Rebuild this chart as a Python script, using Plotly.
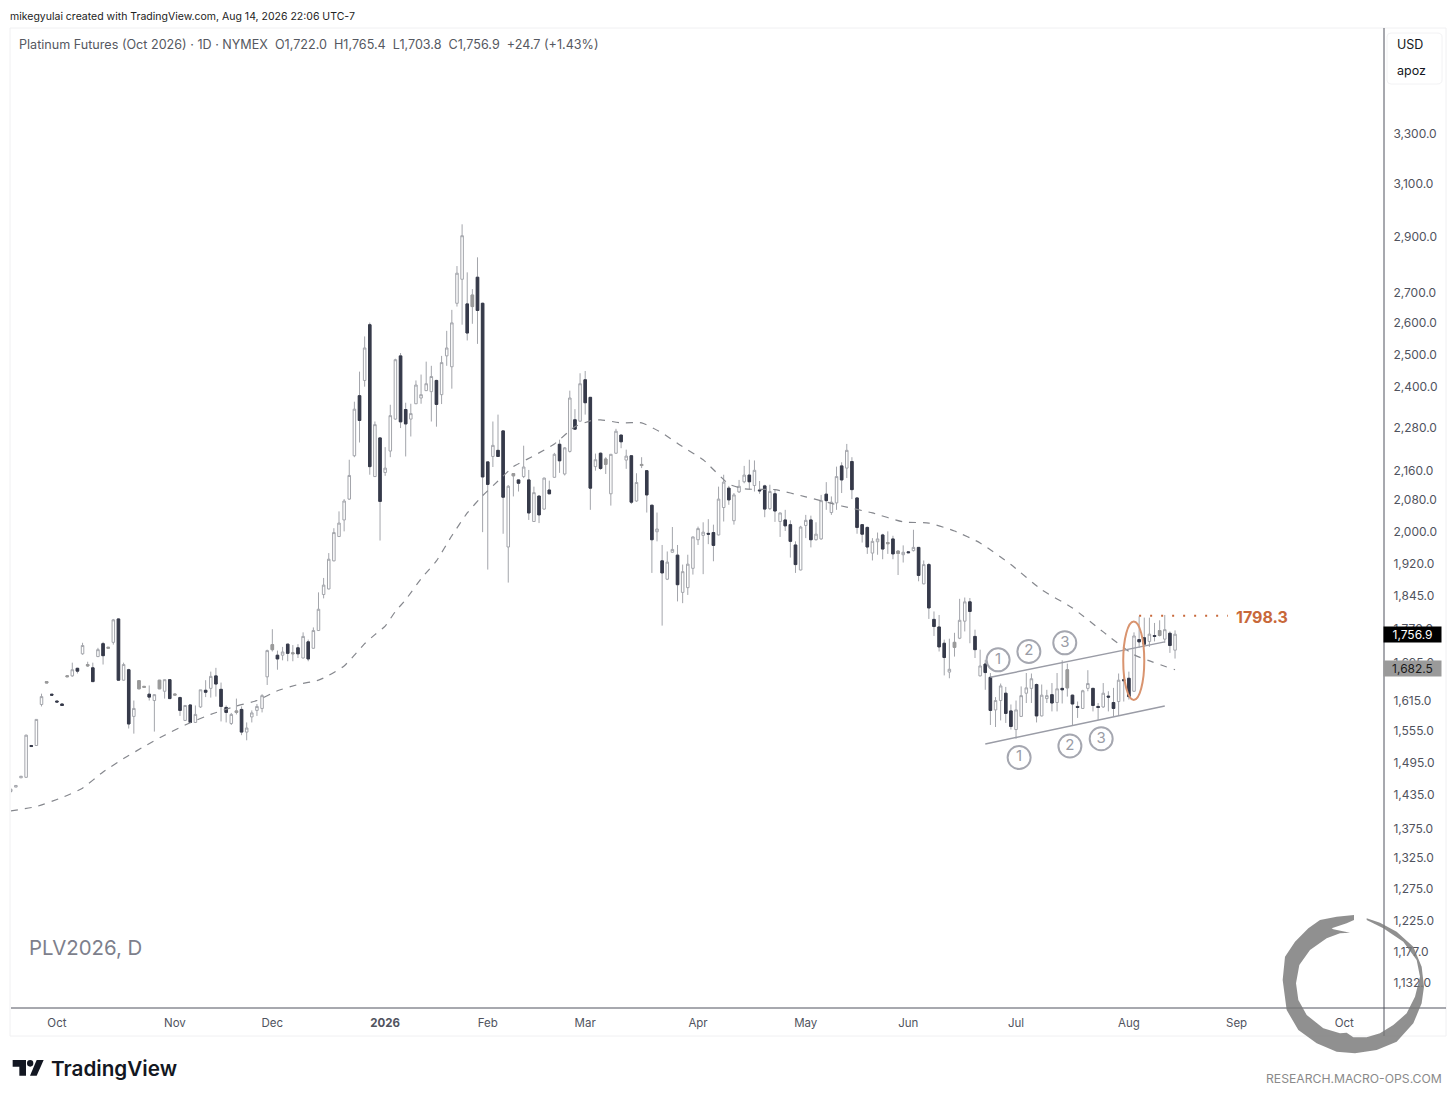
import math
import plotly.graph_objects as go

# ---------- data ----------
FIRST_BAR = -2
OPEN = [
1441,1449,1466,1467,1527,1527,1608,1652,1629,1615,
1609,1665,1667,1683,1714,1688,1684,1708,1736,1726,
1739,1791,1658,1680,1584,1640,1643,1629,1616,1640,
1635,1659,1627,1622,1576,1607,1572,1603,1637,1641,
1667,1639,1602,1570,1592,1598,1553,1583,1596,1600,
1665,1723,1711,1711,1735,1714,1727,1705,1740,1726,
1765,1847,1860,1927,1987,2029,2083,2200,2373,2419,
2595,2143,2250,2154,2213,2304,2495,2332,2304,2349,
2366,2388,2385,2419,2376,2495,2461,2666,2748,2664,
2655,2755,2666,2183,2198,2215,2270,1961,2145,2134,
2143,2134,2025,2091,2057,2107,2141,2232,2150,2212,
2302,2298,2421,2368,2170,2207,2176,2097,2207,2258,
2188,2200,2078,2173,2159,2067,1999,1927,1883,1948,
1941,1852,1863,1909,1979,1990,1995,1997,1991,2061,
2112,2027,2102,2129,2147,2119,2107,2118,2058,2097,
2025,2029,2017,1966,1905,2015,2029,1979,1981,2096,
2048,2073,2172,2166,2184,2086,2017,2010,1946,1974,
1991,1969,1981,1945,1942,1949,1952,1960,1872,1918,
1790,1773,1737,1675,1728,1748,1786,1830,1752,1667,
1692,1664,1597,1616,1631,1595,1558,1584,1631,1641,
1649,1585,1620,1628,1612,1641,1642,1627,1604,1600,
1641,1641,1604,1603,1625,1612,1614,1659,1662,1635,
1745,1749,1741,1754,1754,1746,1759,1722.0]
HIGH = [
1447,1452,1469,1548,1528,1578,1630,1655,1629,1615,
1609,1667,1695,1684,1738,1697,1695,1727,1740,1728,
1791,1792,1695,1682,1616,1657,1645,1647,1629,1658,
1659,1660,1629,1624,1607,1608,1606,1638,1658,1676,
1684,1653,1606,1591,1620,1604,1572,1596,1609,1629,
1723,1768,1721,1729,1736,1733,1735,1761,1745,1772,
1852,1886,1946,2008,2051,2083,2189,2355,2446,2557,
2602,2297,2251,2224,2346,2486,2504,2352,2349,2419,
2437,2477,2464,2421,2495,2575,2644,2794,2945,2772,
2714,2825,2668,2184,2297,2317,2271,2120,2152,2135,
2228,2161,2116,2092,2140,2132,2208,2245,2224,2388,
2333,2441,2448,2369,2206,2209,2196,2205,2276,2259,
2217,2201,2152,2196,2160,2068,2048,1966,1950,2011,
1966,1918,1942,1987,2012,2023,2031,2017,2116,2148,
2118,2099,2134,2172,2189,2187,2131,2121,2121,2108,
2048,2055,2028,1975,2014,2042,2040,2023,2094,2128,
2090,2170,2182,2233,2196,2087,2018,2012,1983,1997,
1994,2000,1989,1952,1965,1950,2004,1961,1928,1922,
1808,1800,1745,1747,1760,1837,1840,1839,1767,1723,
1701,1673,1623,1651,1644,1608,1616,1645,1673,1672,
1651,1649,1638,1652,1673,1700,1693,1628,1614,1638,
1679,1642,1611,1652,1635,1642,1672,1670,1676,1761,
1797,1794,1794,1782,1788,1800,1763,1765.4]
LOW = [
1438,1449,1466,1466,1524,1526,1604,1652,1627,1613,
1606,1665,1665,1672,1712,1686,1655,1707,1691,1726,
1734,1658,1657,1560,1550,1640,1643,1616,1554,1640,
1620,1620,1627,1585,1575,1571,1571,1601,1623,1622,
1624,1574,1572,1567,1588,1547,1537,1572,1585,1592,
1648,1719,1680,1700,1698,1698,1705,1704,1698,1725,
1764,1838,1859,1926,1986,2000,2081,2196,2237,2400,
2148,2142,1977,2145,2196,2302,2278,2198,2254,2348,
2349,2387,2297,2282,2348,2464,2394,2655,2595,2544,
2598,2533,1998,1906,2169,2197,1994,1875,2090,2103,
2139,2029,2024,2021,2055,2096,2140,2153,2146,2209,
2273,2296,2317,2055,2159,2161,2150,2066,2205,2221,
2164,2070,2076,2166,2048,1898,1975,1776,1881,1947,
1831,1827,1846,1894,1966,1895,1968,1926,1990,2025,
2068,2017,2099,2125,2108,2103,2097,2036,2055,2024,
1986,2001,1935,1898,1904,1983,1960,1977,1979,2055,
2042,2055,2099,2139,2083,1994,1972,1944,1928,1942,
1931,1944,1931,1893,1923,1946,1950,1878,1871,1791,
1753,1719,1668,1662,1708,1746,1763,1737,1705,1666,
1638,1567,1563,1576,1571,1558,1540,1583,1611,1611,
1572,1584,1611,1594,1594,1610,1624,1566,1581,1599,
1635,1594,1577,1601,1594,1584,1585,1614,1618,1634,
1727,1729,1729,1741,1752,1738,1716,1703.8]
CLOSE = [
1445,1452,1469,1547,1525,1578,1624,1655,1627,1613,
1606,1667,1680,1677,1732,1691,1655,1723,1710,1728,
1789,1658,1691,1569,1600,1657,1645,1623,1628,1658,
1659,1620,1629,1596,1606,1572,1588,1638,1633,1666,
1650,1604,1592,1588,1595,1553,1561,1591,1604,1626,
1721,1734,1703,1718,1715,1716,1714,1752,1703,1765,
1813,1869,1931,1997,2021,2078,2146,2333,2300,2520,
2170,2288,2077,2166,2314,2483,2296,2290,2320,2405,
2376,2409,2431,2347,2474,2520,2601,2769,2903,2568,
2694,2642,2142,2122,2229,2198,2088,2117,2151,2125,
2169,2047,2100,2042,2139,2097,2204,2186,2222,2366,
2275,2409,2352,2112,2189,2165,2191,2204,2269,2239,
2199,2075,2127,2176,2094,1979,2006,1898,1924,1955,
1870,1901,1919,1986,2007,1998,1993,1965,2083,2128,
2081,2094,2117,2147,2129,2160,2105,2057,2103,2052,
2047,2014,1975,1918,2011,2028,1979,1993,2079,2079,
2075,2143,2134,2215,2108,2010,1993,1961,1975,1981,
1956,1972,1944,1951,1948,1947,1960,1892,1918,1816,
1774,1729,1706,1681,1739,1788,1830,1808,1723,1688,
1674,1596,1616,1646,1590,1564,1597,1626,1642,1661,
1585,1627,1626,1611,1640,1638,1680,1609,1602,1636,
1651,1606,1602,1631,1623,1600,1658,1657,1624,1753,
1740,1735,1757,1752,1765,1767,1732,1756.9]
GRAY_BARS = [5,9,13,17,23,24,27,30,42,49,53,88,96,114,121,169,171,182,204,222]

MA_BAR = [-2,3,8,12,16,20,24,28,32,37,42,46,50,54,58,60,63,65,67,69,71,73,75,78,81,84,87,90,93,96,
          100,104,108,111,113,117,121,125,129,133,138,141,147,153,160,166,172,177,182,187,193,199,205,211,217,225]
MA_PRICE = [1406,1414,1430,1447,1477,1502,1525,1547,1567,1588,1605,1616,1636,1649,1658,1668,1688,1711,1736,1756,
            1775,1808,1835,1884,1927,1989,2047,2092,2131,2170,2200,2233,2282,2299,2302,2293,2293,2264,2225,2189,
            2123,2110,2108,2089,2065,2047,2024,2021,2001,1971,1918,1858,1816,1762,1712,1680]

MONTH_BAR = [7,30,49,71,91,110,132,153,173,194,216,237,258]
MONTH_LABEL = ["Oct","Nov","Dec","<b>2026</b>","Feb","Mar","Apr","May","Jun","Jul","Aug","Sep","Oct"]
PRICE_TICKS = [3300,3100,2900,2700,2600,2500,2400,2280,2160,2080,2000,1920,1845,1770,1695,1615,1555,1495,1435,1375,1325,1275,1225,1177,1132]

LAST_PRICE = 1756.9
MA_LAST = 1682.5
RESIST = 1798.3

CHANNEL_TOP_BAR = [189,223]; CHANNEL_TOP = [1664,1740]
CHANNEL_BOT_BAR = [188,223]; CHANNEL_BOT = [1530,1605]
WAVE_BAR = [190.5,196.5,203.5,194.6,204.5,210.6]
WAVE_PRICE = [1701,1719,1738,1504,1526,1540]
WAVE_TEXT = ["1","2","3","1","2","3"]

# ---------- helpers for chrome ----------
W, H = 1456, 1100
L, R, T, B = 11, 1384, 28, 1008
YMIN, YMAX = 1096.9, 3771.6
XMIN, XMAX = -1.95, 265.74
def px(x): return (x - L) / (R - L)
def py(y): return (B - y) / (B - T)
def price_paper(p):
    return (math.log10(p) - math.log10(YMIN)) / (math.log10(YMAX) - math.log10(YMIN))

FONT = "Inter"
DARK = "#363a4a"
WICK = "#a3a5ab"
GRAY = "#9a9a9a"
BARS = list(range(FIRST_BAR, FIRST_BAR + len(OPEN)))

fig = go.Figure()
# full candle, gray wick and outline
fig.add_trace(go.Candlestick(
    x=BARS, open=OPEN, high=HIGH, low=LOW, close=CLOSE, whiskerwidth=0,
    increasing=dict(line=dict(color=WICK, width=1), fillcolor="#ffffff"),
    decreasing=dict(line=dict(color=WICK, width=1), fillcolor=DARK),
    hoverinfo="skip", showlegend=False))
# solid bodies on top of falling candles
down = [k for k in range(len(OPEN)) if CLOSE[k] < OPEN[k] and BARS[k] not in GRAY_BARS]
fig.add_trace(go.Candlestick(
    x=[BARS[k] for k in down], open=[OPEN[k] for k in down], close=[CLOSE[k] for k in down],
    high=[OPEN[k] for k in down], low=[CLOSE[k] for k in down], whiskerwidth=0,
    decreasing=dict(line=dict(color=DARK, width=1), fillcolor=DARK),
    increasing=dict(line=dict(color=DARK, width=1), fillcolor=DARK),
    hoverinfo="skip", showlegend=False))
gray = [BARS.index(b) for b in GRAY_BARS]
fig.add_trace(go.Candlestick(
    x=GRAY_BARS, open=[OPEN[k] for k in gray], close=[CLOSE[k] for k in gray],
    high=[CLOSE[k] for k in gray], low=[OPEN[k] for k in gray], whiskerwidth=0,
    increasing=dict(line=dict(color=GRAY, width=1), fillcolor=GRAY),
    decreasing=dict(line=dict(color=GRAY, width=1), fillcolor=GRAY),
    hoverinfo="skip", showlegend=False))

fig.add_trace(go.Scatter(x=MA_BAR, y=MA_PRICE, mode="lines",
                         line=dict(color="#85878d", width=1.2, dash="7px,7px", shape="spline", smoothing=0.5),
                         hoverinfo="skip", showlegend=False))
for xs, ys in ((CHANNEL_TOP_BAR, CHANNEL_TOP), (CHANNEL_BOT_BAR, CHANNEL_BOT)):
    fig.add_trace(go.Scatter(x=xs, y=ys, mode="lines", line=dict(color="#9a9ca6", width=1.5), hoverinfo="skip", showlegend=False))
fig.add_trace(go.Scatter(x=WAVE_BAR, y=WAVE_PRICE, mode="markers+text", text=WAVE_TEXT, textposition="middle center",
                         textfont=dict(family=FONT, size=15, color="#9a9ca6"),
                         marker=dict(symbol="circle-open", size=23, color="#a5a7b0", line=dict(width=2, color="#a5a7b0")),
                         hoverinfo="skip", showlegend=False))
fig.add_trace(go.Scatter(x=[218,235.3], y=[RESIST,RESIST], mode="lines", line=dict(color="#c8683a", width=2, dash="2px,9px"), hoverinfo="skip", showlegend=False))

shapes = []
def line(x0, y0, x1, y1, color="#50535e", width=1):
    shapes.append(dict(type="line", xref="paper", yref="paper", x0=px(x0), y0=py(y0), x1=px(x1), y1=py(y1),
                       line=dict(color=color, width=width), layer="above"))
# panel frame and axes
shapes.append(dict(type="rect", xref="paper", yref="paper", x0=px(10), y0=py(28), x1=px(1446), y1=py(1036),
                   line=dict(color="#f0f0f2", width=1), layer="below"))
line(11, 1008, 1446, 1008)
line(1384, 28, 1384, 1036)
shapes.append(dict(type="path", xref="paper", yref="paper", layer="below",
    path="M {} {} L {} {} Q {} {} {} {} L {} {} Q {} {} {} {} L {} {} Q {} {} {} {} L {} {} Q {} {} {} {} Z".format(
        px(1391),py(33), px(1437),py(33), px(1442),py(33), px(1442),py(37), px(1442),py(80), px(1442),py(84), px(1437),py(84),
        px(1391),py(84), px(1387),py(84), px(1387),py(80), px(1387),py(37), px(1387),py(33), px(1391),py(33)),
    line=dict(color="#f2f2f4", width=1)))
# ellipse
shapes.append(dict(type="circle", xref="x", yref="y", x0=214.9, x1=219.0, y0=1617, y1=1785,
                   line=dict(color="#d9946f", width=2), layer="above"))
# ouroboros watermark
ZX, ZY, ZS = 1240, 900, 3
RING = [(342,45),(290,50),(240,60),(205,85),(165,125),(135,170),(128,240),(140,330),(175,390),(230,430),(290,455),(345,460),
        (410,450),(470,425),(520,370),(545,310),(552,260),(545,200),(520,140),(470,95),(420,68),(380,55),(380,60),(430,85),
        (490,125),(530,180),(540,230),(525,290),(500,340),(460,375),(420,400),(380,412),(340,412),(320,398),(300,400),
        (250,385),(200,345),(175,300),(168,250),(178,195),(210,150),(260,115),(300,100),(330,98),(280,88),(275,85),(320,70),(342,60)]
ring_path = "M " + " L ".join(f"{px(ZX+a/ZS):.5f} {py(ZY+b/ZS):.5f}" for a, b in RING) + " Z"
shapes.append(dict(type="path", xref="paper", yref="paper", path=ring_path, fillcolor="rgba(120,120,120,0.82)",
                   line=dict(width=0), layer="above"))
# TradingView glyph
TVX, TVY = 0, 1030
def poly(points):
    return "M " + " L ".join(f"{px(TVX+a/3):.5f} {py(TVY+b/3):.5f}" for a, b in points) + " Z"
shapes.append(dict(type="path", xref="paper", yref="paper", fillcolor="#131722", line=dict(width=0),
                   path=poly([(38,90),(78,90),(78,137),(58,137),(58,110),(38,110)])))
shapes.append(dict(type="path", xref="paper", yref="paper", fillcolor="#131722", line=dict(width=0),
                   path=poly([(110,90),(131,90),(110,137),(90,137)])))
shapes.append(dict(type="circle", xref="paper", yref="paper", fillcolor="#131722", line=dict(width=0),
                   x0=px(81/3), x1=px(100/3), y0=py(1030+110/3), y1=py(1030+90/3)))

anns = []
def txt(x, y, s, size=12, color="#131722", anchor="left", weight=None):
    f = dict(family=FONT, size=size, color=color)
    if weight: f["weight"] = weight
    anns.append(dict(xref="paper", yref="paper", x=px(x), y=py(y), text=s, showarrow=False, xanchor=anchor, yanchor="middle", font=f))
txt(8, 16, "mikegyulai created with TradingView.com, Aug 14, 2026 22:06 UTC-7", 10.5, "#222222")
txt(17, 44.5, "Platinum Futures (Oct 2026) · 1D · NYMEX  O1,722.0  H1,765.4  L1,703.8  C1,756.9  +24.7 (+1.43%)", 12.6, "#555861")
txt(27, 947, "PLV2026, D", 20.4, "#7d7f8c")
txt(1395, 45, "USD", 12.5, "#131722")
txt(1395, 71, "apoz", 12.5, "#131722")
txt(48.5, 1068, "TradingView", 20.7, "#131722", weight=600)
txt(1264, 1078, "RESEARCH.MACRO-OPS.COM", 12.2, "#8a8a8a")
anns.append(dict(xref="x", yref="paper", x=236.5, y=price_paper(RESIST), yshift=-1.5, text=f"<b>{RESIST}</b>", showarrow=False,
                 xanchor="left", yanchor="middle", font=dict(family=FONT, size=16, color="#c8683a")))
for val, bg, fg in ((LAST_PRICE, "#000000", "#ffffff"), (MA_LAST, "#9a9a9a", "#1a1a1a")):
    anns.append(dict(xref="paper", yref="paper", x=px(1412.5), y=price_paper(val), text=f"{val:,.1f}", showarrow=False,
                     xanchor="center", yanchor="middle", width=57, height=15, bgcolor=bg, borderpad=0,
                     font=dict(family=FONT, size=12, color=fg)))

fig.update_layout(
    width=W, height=H, margin=dict(l=L, r=W-R, t=T, b=H-B, pad=0), autosize=False,
    paper_bgcolor="#ffffff", plot_bgcolor="#ffffff", showlegend=False, hovermode=False,
    font=dict(family=FONT, size=12, color="#50535e"),
    shapes=shapes, annotations=anns,
    xaxis=dict(range=[XMIN, XMAX], rangeslider=dict(visible=False), showgrid=False, zeroline=False,
               tickmode="array", tickvals=MONTH_BAR, ticktext=MONTH_LABEL, ticks="outside", ticklen=4, tickcolor="rgba(0,0,0,0)",
               tickfont=dict(family=FONT, size=11.5, color="#50535e")),
    yaxis=dict(type="log", side="right", range=[math.log10(YMIN), math.log10(YMAX)], showgrid=False, zeroline=False,
               tickmode="array", tickvals=PRICE_TICKS, ticktext=[f"{p:,.1f}" for p in PRICE_TICKS],
               ticks="outside", ticklen=6, tickcolor="rgba(0,0,0,0)",
               tickfont=dict(family=FONT, size=12, color="#50535e")),
)
fig.write_html("out.html", post_script="document.body.style.margin='0';", config=dict(displayModeBar=False))
